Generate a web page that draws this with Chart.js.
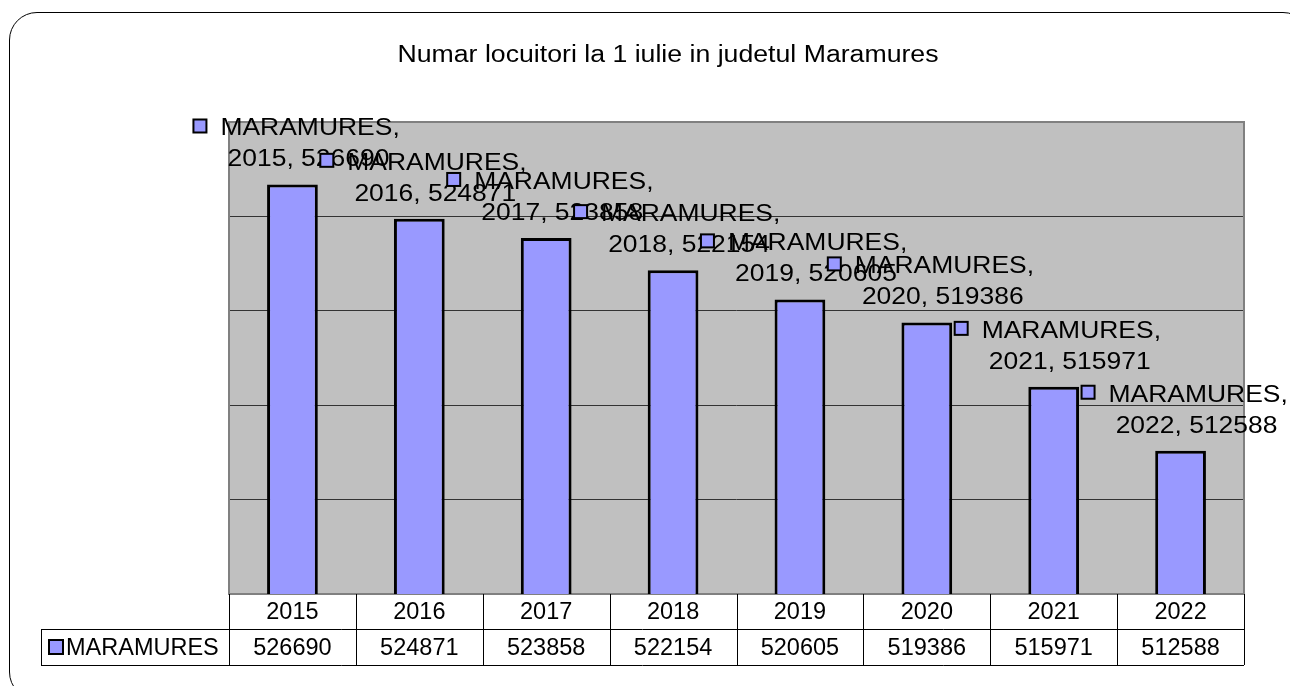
<!DOCTYPE html>
<html>
<head>
<meta charset="utf-8">
<title>Numar locuitori Maramures</title>
<script src="https://cdn.jsdelivr.net/npm/chart.js@4/dist/chart.umd.min.js"></script>
<style>
  html, body { margin: 0; padding: 0; background: #fff; overflow: hidden; }
  #cadru {
    position: absolute; left: 9px; top: 12px;
    width: 1300px; height: 686px;
    border: 1.5px solid #000; border-radius: 28px;
    pointer-events: none;
  }
  #grafic { position: absolute; left: 0; top: 0; }
</style>
</head>
<body>
<div id="cadru"></div>
<canvas id="grafic" width="1290" height="686"></canvas>
<script>
// Date
const titlu = 'Numar locuitori la 1 iulie in judetul Maramures';
const serie = 'MARAMURES';
const ani = ['2015', '2016', '2017', '2018', '2019', '2020', '2021', '2022'];
const locuitori = [526690, 524871, 523858, 522154, 520605, 519386, 515971, 512588];
const axaMin = 505000;
const axaMax = 530000;
const axaPas = 5000;

const FONT = '"Liberation Sans", Arial, sans-serif';

// text scris putin "lățit" pe orizontală, ca în imaginea originală
function textLat(ctx, text, x, y, align, size, sx) {
  ctx.save();
  ctx.translate(x, y);
  ctx.scale(sx, 1);
  ctx.font = size + 'px ' + FONT;
  ctx.fillStyle = '#000';
  ctx.textAlign = align;
  ctx.textBaseline = 'alphabetic';
  ctx.fillText(text, 0, 0);
  ctx.restore();
}

function patratel(ctx, x, y, s) {
  ctx.save();
  ctx.fillStyle = '#9999FF';
  ctx.fillRect(x, y, s, s);
  ctx.strokeStyle = '#000';
  ctx.lineWidth = 2;
  ctx.strokeRect(x, y, s, s);
  ctx.restore();
}

// fundal gri + chenar zona de desen
const panouGri = {
  id: 'panouGri',
  beforeDraw(chart) {
    const { ctx, chartArea: a } = chart;
    ctx.save();
    ctx.fillStyle = '#C0C0C0';
    ctx.fillRect(a.left, a.top, a.width, a.height);
    ctx.restore();
  },
  beforeDatasetsDraw(chart) {
    const { ctx, chartArea: a } = chart;
    ctx.save();
    ctx.strokeStyle = '#808080';
    ctx.lineWidth = 2;
    ctx.strokeRect(a.left, a.top, a.width, a.height);
    ctx.restore();
  }
};

// etichete de date deasupra barelor
const etichete = {
  id: 'etichete',
  afterDatasetsDraw(chart) {
    const ctx = chart.ctx;
    const meta = chart.getDatasetMeta(0);
    meta.data.forEach((bar, i) => {
      const cx = bar.x, top = bar.y;
      patratel(ctx, cx - 99, top - 65, 13);
      textLat(ctx, serie + ',', cx - 72, top - 49, 'left', 23, 1.15);
      textLat(ctx, ani[i] + ', ' + locuitori[i], cx + 16, top - 18, 'center', 23, 1.15);
    });
  }
};

// titlu + tabel de date sub grafic
const tabel = {
  id: 'tabel',
  afterDraw(chart) {
    const { ctx, chartArea: a } = chart;
    const x = chart.scales.x;
    const n = ani.length;
    const colW = a.width / n;
    const r0 = Math.round(a.bottom), r1 = r0 + 35, r2 = r0 + 71;
    const stanga = 41;

    textLat(ctx, titlu, 668, 62, 'center', 23.5, 1.135);

    ctx.save();
    ctx.strokeStyle = '#000';
    ctx.lineWidth = 1;
    ctx.beginPath();
    ctx.moveTo(stanga, r1 + 0.5); ctx.lineTo(a.right, r1 + 0.5);
    ctx.moveTo(stanga, r2 + 0.5); ctx.lineTo(a.right, r2 + 0.5);
    ctx.moveTo(stanga + 0.5, r1); ctx.lineTo(stanga + 0.5, r2);
    for (let k = 0; k <= n; k++) {
      const px = Math.round(a.left + k * colW) + 0.5;
      ctx.moveTo(px, r0); ctx.lineTo(px, r2);
    }
    ctx.stroke();

    ctx.font = '23.5px ' + FONT;
    ctx.fillStyle = '#000';
    ctx.textAlign = 'center';
    ctx.textBaseline = 'alphabetic';
    ani.forEach((an, i) => {
      const px = x.getPixelForValue(i);
      ctx.fillText(an, px, r0 + 25);
      ctx.fillText(String(locuitori[i]), px, r1 + 26);
    });
    ctx.restore();

    patratel(ctx, stanga + 8, r1 + 11, 14);
    ctx.save();
    ctx.font = '23.5px ' + FONT;
    ctx.fillStyle = '#000';
    ctx.textAlign = 'left';
    ctx.fillText(serie, stanga + 25, r1 + 26);
    ctx.restore();
  }
};

new Chart(document.getElementById('grafic').getContext('2d'), {
  type: 'bar',
  data: {
    labels: ani,
    datasets: [{
      label: serie,
      data: locuitori,
      backgroundColor: '#9999FF',
      borderColor: '#000',
      borderWidth: 3,
      borderSkipped: false,
      barPercentage: 0.4,
      categoryPercentage: 1.0
    }]
  },
  options: {
    responsive: false,
    animation: false,
    layout: { padding: { left: 229, right: 46, top: 122, bottom: 92 } },
    plugins: {
      legend: { display: false },
      tooltip: { enabled: false }
    },
    scales: {
      x: { display: false },
      y: {
        min: axaMin,
        max: axaMax,
        ticks: { display: false, stepSize: axaPas },
        border: { display: false },
        grid: {
          drawTicks: false,
          lineWidth: 1,
          color: c => (c.tick && (c.tick.value === axaMin || c.tick.value === axaMax)) ? 'rgba(0,0,0,0)' : '#333'
        }
      }
    }
  },
  plugins: [panouGri, etichete, tabel]
});
</script>
</body>
</html>
